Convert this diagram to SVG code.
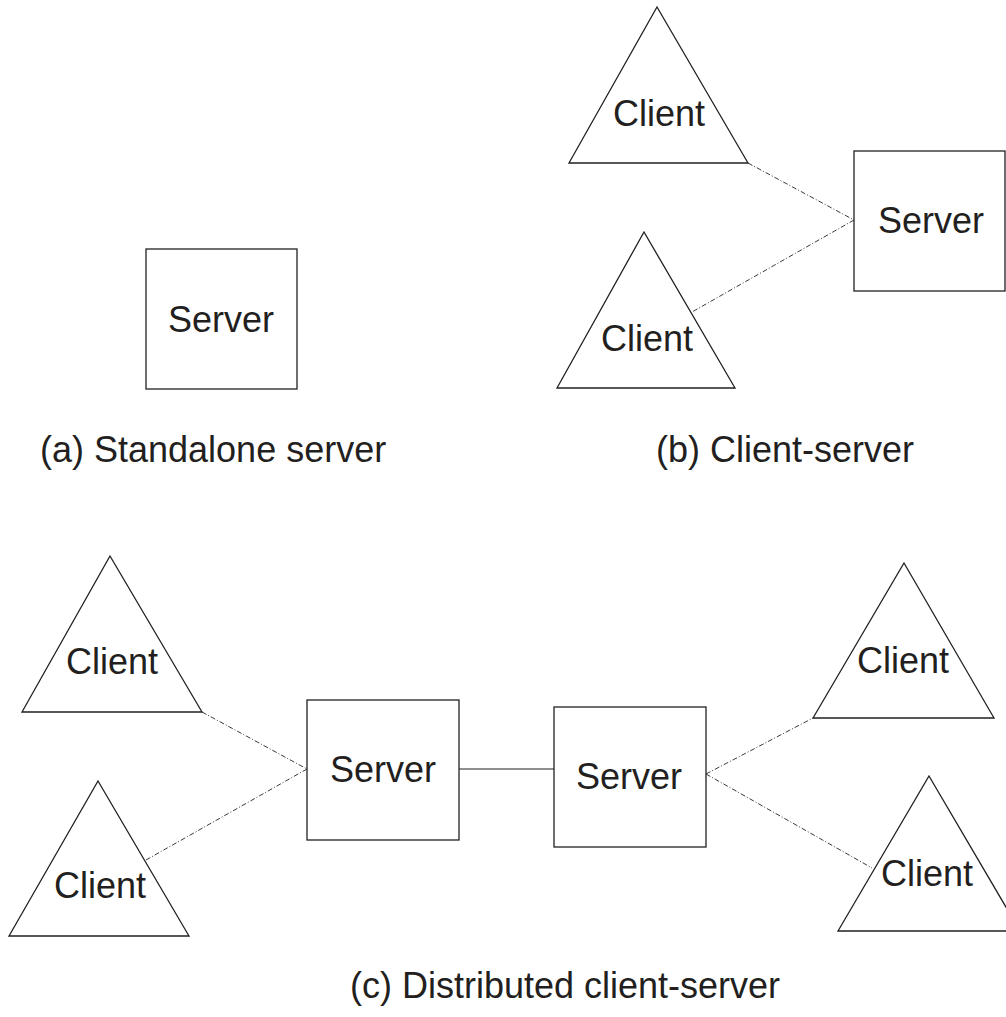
<svg xmlns="http://www.w3.org/2000/svg" width="1006" height="1017" viewBox="0 0 1006 1017">
  <style>
    .shape { fill: #ffffff; stroke: #231f20; stroke-width: 1.3; }
    .label { font-family: "Liberation Sans", Arial, sans-serif; font-size: 36px; fill: #231f20; text-anchor: middle; }
    .caption { font-family: "Liberation Sans", Arial, sans-serif; font-size: 36px; fill: #231f20; }
    .link { fill: none; stroke: #3a3a3a; stroke-width: 1; stroke-dasharray: 5 2 1 2; }
    .solid { fill: none; stroke: #231f20; stroke-width: 1.2; }
  </style>
  <rect width="1006" height="1017" fill="#ffffff"/>

  <!-- connectors -->
  <g id="connectors">
    <!-- (b) client-server -->
    <line class="link" x1="748" y1="163" x2="854" y2="220"/>
    <line class="link" x1="854" y1="220" x2="692" y2="312"/>
    <!-- (c) distributed client-server -->
    <line class="link" x1="202" y1="712" x2="307" y2="769"/>
    <line class="link" x1="307" y1="769" x2="146" y2="860"/>
    <line class="solid" x1="459" y1="769" x2="554" y2="769"/>
    <line class="link" x1="706" y1="774" x2="813" y2="718"/>
    <line class="link" x1="706" y1="774" x2="872" y2="868"/>
  </g>

  <!-- (a) standalone server -->
  <g id="a-server">
    <rect class="shape" x="146" y="249" width="151" height="140"/>
    <text class="label" x="221" y="332">Server</text>
  </g>
  <text id="caption-a" class="caption" x="40" y="462">(a) Standalone server</text>

  <!-- (b) client-server -->
  <g id="b-client-top">
    <polygon class="shape" points="657,7 748,163 569,163"/>
    <text class="label" x="659" y="126">Client</text>
  </g>
  <g id="b-client-bottom">
    <polygon class="shape" points="644,232 735,388 557,388"/>
    <text class="label" x="647" y="351">Client</text>
  </g>
  <g id="b-server">
    <rect class="shape" x="854" y="151" width="151" height="140"/>
    <text class="label" x="931" y="233">Server</text>
  </g>
  <text id="caption-b" class="caption" x="656" y="462">(b) Client-server</text>

  <!-- (c) distributed client-server -->
  <g id="c-client-top-left">
    <polygon class="shape" points="110,556 202,712 22,712"/>
    <text class="label" x="112" y="674">Client</text>
  </g>
  <g id="c-client-bottom-left">
    <polygon class="shape" points="98,781 189,936 9,936"/>
    <text class="label" x="100" y="898">Client</text>
  </g>
  <g id="c-server-left">
    <rect class="shape" x="307" y="700" width="152" height="140"/>
    <text class="label" x="383" y="782">Server</text>
  </g>
  <g id="c-server-right">
    <rect class="shape" x="554" y="707" width="152" height="140"/>
    <text class="label" x="629" y="789">Server</text>
  </g>
  <g id="c-client-top-right">
    <polygon class="shape" points="904,563 994,718 813,718"/>
    <text class="label" x="903" y="673">Client</text>
  </g>
  <g id="c-client-bottom-right">
    <polygon class="shape" points="929,776 1020,931 838,931"/>
    <text class="label" x="927" y="886">Client</text>
  </g>
  <text id="caption-c" class="label" x="565" y="998">(c) Distributed client-server</text>
</svg>
